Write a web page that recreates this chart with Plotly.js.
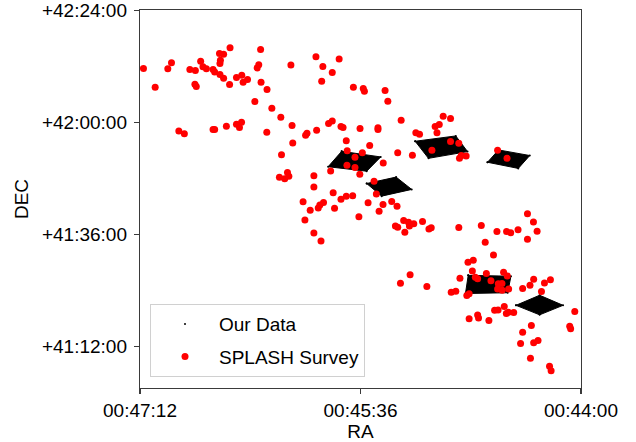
<!DOCTYPE html>
<html>
<head>
<meta charset="utf-8">
<script src="https://cdn.plot.ly/plotly-3.0.1.min.js"></script>
<style>html,body{margin:0;padding:0;background:#fff;}#chart{width:636px;height:442px;}</style>
</head>
<body>
<div id="chart"></div>
<script>
// RA in seconds of time (00:MM:SS -> MM*60+SS), DEC in degrees
const raSplash = [
2830.5,2825.4,2819.9,2818.3,2810.3,2807.9,2805.6,2804.6,2803.1,2800.2,2799.5,2808.1,2807.5,2797.4,2795.6,2792.8,2797.0,2797.2,2797.2,2795.6,2793.0,2790.0,2787.7,2787.1,2785.2,2779.5,2780.3,2781.0,2779.3,2776.7,2782.0,2774.6,2770.7,2766.3,2755.4,2752.4,2745.3,2748.3,2752.9,2739.1,
2815.1,2812.7,2800.2,2799.5,2794.4,2790.0,2787.8,2788.7,2776.8,2765.8,2765.5,2770.4,2759.9,2759.3,2755.1,2749.9,2748.3,2744.5,2743.6,2736.2,2742.2,2741.8,2738.4,2741.9,2738.4,2749.0,2736.3,2771.3,2769.0,2767.8,2767.2,2756.3,2756.3,2747.9,2744.5,2742.2,2739.4,
2734.8,2734.3,2725.3,2724.1,2718.3,2728.4,2728.4,2732.0,2735.2,2719.8,2713.4,2726.1,2730.1,2729.1,2700.0,2696.8,2703.5,2701.7,2711.9,2710.3,2702.7,2696.8,2693.2,2704.9,2692.9,2692.1,2690.0,2676.3,2672.2,
2732.7,2726.2,2722.4,2720.1,2727.9,2720.8,2719.8,2717.2,2715.1,2714.7,2712.8,2716.7,2709.0,2706.2,2705.2,2693.2,2683.4,2676.6,2672.4,2670.6,2667.4,2663.3,2660.7,2659.1,2663.3,2681.7,2678.1,2689.2,2686.9,2687.3,2681.2,2686.0,2685.0,2673.7,2672.1,2679.2,2676.0,2674.4,2676.3,2674.3,2671.5,2692.7,2696.5,2694.5,2689.7,2688.7,2714.4,2718.6,2707.1,2665.4,2662.2,2660.6,2655.9,2653.3,2657.2,2673.4,2677.6,2676.1,2672.5,2671.6,2669.3,2688.7,2685.0,2684.6,2680.1,2661.6,2665.4,2666.3,2660.6,2658.7,2662.0,2653.7,2653.0,2644.9,2644.5,2642.7,
2761.0,2757.9,2754.4,2753.7,2752.1,2747.3,2736.7,2760.2,2756.3,2753.2
];
const decSplash = [
42.192,42.125,42.191,42.212,42.188,42.185,42.218,42.198,42.191,42.188,42.179,42.136,42.128,42.245,42.243,42.266,42.221,42.210,42.170,42.157,42.135,42.160,42.168,42.143,42.153,42.260,42.205,42.194,42.143,42.117,42.074,42.050,42.018,42.204,42.234,42.199,42.226,42.178,42.146,42.125,
41.969,41.959,41.974,41.974,41.986,41.993,42.000,41.981,41.964,41.988,41.926,41.884,41.953,41.961,41.971,41.995,42.004,41.985,41.981,41.978,41.934,41.898,41.875,41.846,41.838,41.826,41.814,41.803,41.798,41.820,41.807,41.809,41.769,41.748,41.725,41.736,41.737,
42.120,42.111,42.113,42.075,42.007,41.980,41.974,41.917,41.891,41.891,41.882,41.854,41.789,41.744,42.021,42.013,41.985,41.992,41.962,41.957,41.962,41.931,41.925,41.900,41.871,41.881,41.879,41.900,41.871,
41.712,41.706,41.717,41.700,41.682,41.629,41.625,41.649,41.643,41.629,41.637,41.607,41.645,41.619,41.623,41.624,41.631,41.610,41.610,41.605,41.616,41.673,41.644,41.611,41.582,41.571,41.526,41.500,41.507,41.469,41.460,41.446,41.441,41.464,41.451,41.434,41.423,41.424,41.404,41.400,41.404,41.443,41.393,41.396,41.381,41.387,41.455,41.425,41.413,41.406,41.418,41.439,41.426,41.437,41.395,41.342,41.328,41.329,41.317,41.321,41.320,41.298,41.311,41.301,41.292,41.274,41.250,41.210,41.212,41.220,41.157,41.128,41.112,41.271,41.262,41.324,
41.716,41.686,41.694,41.704,41.713,41.693,41.662,41.651,41.604,41.576
];
// Our observed fields (corners of each footprint, null separates fields)
const fieldRA = [2744.2,2727.2,2733.3,2750.1,2744.2,null, 2733.3,2720.5,2713.7,2726.8,2733.3,null, 2712.2,2694.5,2689.4,2706.4,2712.2,null, 2680.7,2675.9,2662.3,2667.3,2680.7,null, 2689.1,2670.5,2671.9,2690.3,2689.1,null, 2668.3,2658.0,2647.8,2658.0,2668.3];
const fieldDec = [41.896,41.876,41.825,41.841,41.896,null, 41.781,41.804,41.760,41.736,41.781,null, 41.932,41.951,41.895,41.871,41.932,null, 41.857,41.901,41.881,41.835,41.857,null, 41.453,41.450,41.391,41.388,41.453,null, 41.346,41.382,41.346,41.312,41.346];

const raTickVals = [2832, 2736, 2640];
const raTickText = ['00:47:12', '00:45:36', '00:44:00'];
const decTickVals = [42.4, 42.0, 41.6, 41.2];
const decTickText = ['+42:24:00', '+42:00:00', '+41:36:00', '+41:12:00'];

const FONT = 'Liberation Sans, Arial, sans-serif';

const traces = [
  {x: fieldRA, y: fieldDec, type: 'scatter', mode: 'lines', fill: 'toself',
   fillcolor: '#000', line: {color: '#000', width: 1}, showlegend: false, hoverinfo: 'skip'},
  {x: fieldRA, y: fieldDec, type: 'scatter', mode: 'markers', name: 'Our Data',
   marker: {color: '#000', size: 2}, legendgroup: 'a'},
  {x: raSplash, y: decSplash, type: 'scatter', mode: 'markers', name: 'SPLASH Survey',
   marker: {color: '#ff0000', size: 7}, legendgroup: 'b'}
];

const axisCommon = {
  showgrid: false, zeroline: false, showline: true, mirror: true,
  linecolor: '#3a3a3a', linewidth: 1.2, ticks: 'outside', ticklen: 5,
  tickcolor: '#3a3a3a', tickwidth: 1.2, tickfont: {family: FONT, size: 19, color: '#000'},
  ticklabeloverflow: 'allow'
};

const layout = {
  width: 636, height: 442,
  margin: {l: 140, r: 55, t: 10, b: 54},
  paper_bgcolor: '#fff', plot_bgcolor: '#fff',
  font: {family: FONT, color: '#000'},
  xaxis: Object.assign({}, axisCommon, {
    range: [2832.01, 2639.99], tickmode: 'array', tickvals: raTickVals, ticktext: raTickText,
    title: {text: 'RA', font: {family: FONT, size: 19}, standoff: 4}
  }),
  yaxis: Object.assign({}, axisCommon, {
    range: [41.0507, 42.4008], tickmode: 'array', tickvals: decTickVals, ticktext: decTickText,
    ticklabelstandoff: 3,
    title: {text: 'DEC', font: {family: FONT, size: 19}, standoff: 8}
  }),
  legend: {
    x: 0.0227, y: 0.029, xanchor: 'left', yanchor: 'bottom',
    bgcolor: 'rgba(255,255,255,0.8)', bordercolor: '#d0d0d0', borderwidth: 1,
    font: {family: FONT, size: 19, color: '#000'},
    traceorder: 'grouped', tracegroupgap: 5, itemwidth: 58
  },
  showlegend: true
};

Plotly.newPlot('chart', traces, layout, {staticPlot: true, displayModeBar: false});
</script>
</body>
</html>
